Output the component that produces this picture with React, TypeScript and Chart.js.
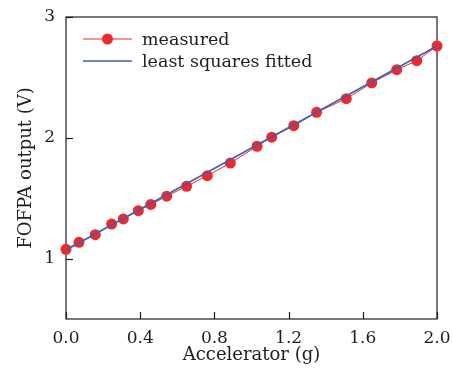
import React, { useEffect, useRef } from "react";
import { Chart, registerables } from "chart.js";

Chart.register(...registerables);

// Data
const accel = [0, 0.07, 0.158, 0.246, 0.309, 0.39, 0.457, 0.543, 0.65, 0.762, 0.886, 1.03, 1.109, 1.228, 1.351, 1.511, 1.648, 1.783, 1.891, 2.0];
const measured = [1.077, 1.135, 1.198, 1.286, 1.328, 1.397, 1.448, 1.517, 1.599, 1.686, 1.791, 1.93, 2.005, 2.1, 2.211, 2.324, 2.454, 2.564, 2.638, 2.76];
const fitX = [0, 2.0];
const fitY = [1.071, 2.76];
const xTicks = [0, 0.4, 0.8, 1.2, 1.6, 2.0];
const yTicks = [1, 2, 3];
const seriesLabels = ["measured", "least squares fitted"];

const RED = "#ec2a2e";
const BLUE = "#3d5fae";
const INK = "#1e1e1e";
const FONT = '"DejaVu Serif", serif';

const framePlugin = {
  id: "frameTicks",
  beforeDatasetsDraw(chart: any) {
    const { ctx, chartArea: a, scales } = chart;
    ctx.save();
    ctx.strokeStyle = INK;
    ctx.lineWidth = 1.2;
    ctx.strokeRect(a.left, a.top, a.right - a.left, a.bottom - a.top);
    ctx.lineWidth = 1.2;
    scales.x.ticks.forEach((t: any) => {
      const px = Math.round(scales.x.getPixelForValue(t.value)) + 0.5;
      ctx.beginPath();
      ctx.moveTo(px, a.bottom);
      ctx.lineTo(px, a.bottom - 7);
      ctx.stroke();
    });
    scales.y.ticks.forEach((t: any) => {
      const py = Math.round(scales.y.getPixelForValue(t.value)) + 0.5;
      ctx.beginPath();
      ctx.moveTo(a.left, py);
      ctx.lineTo(a.left + 7, py);
      ctx.stroke();
    });
    ctx.restore();
  },
};

const legendPlugin = {
  id: "insideLegend",
  afterDraw(chart: any) {
    const { ctx, chartArea: a } = chart;
    ctx.save();
    ctx.font = `17.5px ${FONT}`;
    ctx.textBaseline = "middle";
    ctx.textAlign = "left";
    chart.data.datasets.forEach((ds: any, i: number) => {
      const y = a.top + 22 + i * 22;
      const x0 = a.left + 17;
      const x1 = a.left + 66;
      ctx.strokeStyle = ds.borderColor;
      ctx.lineWidth = ds.borderWidth;
      ctx.beginPath();
      ctx.moveTo(x0, y);
      ctx.lineTo(x1, y);
      ctx.stroke();
      if (ds.pointRadius > 0) {
        ctx.fillStyle = ds.pointBackgroundColor;
        ctx.beginPath();
        ctx.arc((x0 + x1) / 2, y, ds.pointRadius, 0, Math.PI * 2);
        ctx.fill();
      }
      ctx.fillStyle = INK;
      ctx.fillText(ds.label, a.left + 76, y + 1);
    });
    ctx.restore();
  },
};

export default function App() {
  const ref = useRef<HTMLCanvasElement | null>(null);

  useEffect(() => {
    if (!ref.current) return;
    const chart = new Chart(ref.current, {
      type: "line",
      data: {
        datasets: [
          {
            label: seriesLabels[0],
            data: accel.map((x, i) => ({ x, y: measured[i] })),
            borderColor: RED,
            borderWidth: 1,
            pointRadius: 5.5,
            pointHoverRadius: 5.5,
            pointBackgroundColor: RED,
            pointBorderWidth: 0,
            pointBorderColor: RED,
            tension: 0,
            clip: false as any,
            order: 1,
          },
          {
            label: seriesLabels[1],
            data: fitX.map((x, i) => ({ x, y: fitY[i] })),
            borderColor: BLUE,
            borderWidth: 1.5,
            pointRadius: 0,
            tension: 0,
            clip: false as any,
            order: 0,
          },
        ],
      },
      options: {
        responsive: false,
        animation: false,
        layout: { padding: { top: 17, right: 16, left: 0, bottom: 0 } },
        plugins: { legend: { display: false }, tooltip: { enabled: false } },
        scales: {
          x: {
            type: "linear",
            min: 0,
            max: 2,
            afterBuildTicks: (s: any) => {
              s.ticks = xTicks.map((v) => ({ value: v }));
            },
            afterFit: (s: any) => {
              s.height = 58;
              s.paddingLeft = 0;
              s.paddingRight = 0;
            },
            grid: { display: false, drawTicks: false },
            border: { display: false },
            ticks: {
              autoSkip: false,
              maxRotation: 0,
              padding: 9,
              color: INK,
              font: { family: FONT, size: 17 },
              callback: (v: any) => Number(v).toFixed(1),
            },
            title: {
              display: true,
              text: "Accelerator (g)",
              color: INK,
              font: { family: FONT, size: 18 },
              padding: { top: 0, bottom: 11 },
            },
          },
          y: {
            type: "linear",
            min: 0.5,
            max: 3,
            afterBuildTicks: (s: any) => {
              s.ticks = yTicks.map((v) => ({ value: v }));
            },
            afterFit: (s: any) => {
              s.width = 66;
              s.paddingTop = 0;
              s.paddingBottom = 0;
            },
            grid: { display: false, drawTicks: false },
            border: { display: false },
            ticks: {
              autoSkip: false,
              padding: 11,
              color: INK,
              font: { family: FONT, size: 17 },
              callback: (v: any) => String(v),
            },
            title: {
              display: true,
              text: "FOFPA output (V)",
              color: INK,
              font: { family: FONT, size: 18 },
              padding: { top: 16, bottom: 0 },
            },
          },
        },
      },
      plugins: [framePlugin, legendPlugin],
    });
    return () => chart.destroy();
  }, []);

  return (
    <div style={{ position: "absolute", left: 0, top: 0, width: 453, height: 377, background: "#fff" }}>
      <canvas ref={ref} width={453} height={377} />
    </div>
  );
}
